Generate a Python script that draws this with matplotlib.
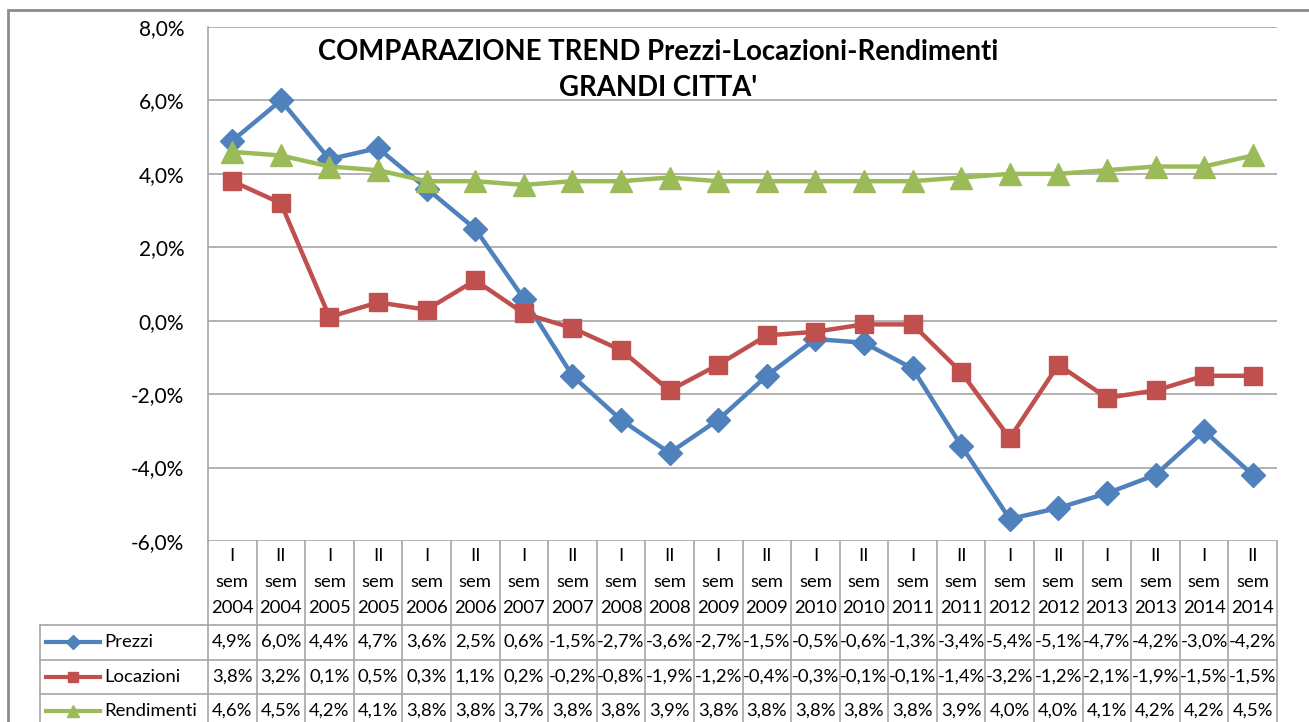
import matplotlib.pyplot as plt
import matplotlib.transforms as mtransforms
from matplotlib.lines import Line2D
from matplotlib.patches import Rectangle
from matplotlib.ticker import FuncFormatter

# data (percent)
semesters = ['I', 'II'] * 11
years = [str(y) for y in range(2004, 2015) for _ in range(2)]
prezzi = [4.9, 6.0, 4.4, 4.7, 3.6, 2.5, 0.6, -1.5, -2.7, -3.6, -2.7, -1.5,
          -0.5, -0.6, -1.3, -3.4, -5.4, -5.1, -4.7, -4.2, -3.0, -4.2]
locazioni = [3.8, 3.2, 0.1, 0.5, 0.3, 1.1, 0.2, -0.2, -0.8, -1.9, -1.2, -0.4,
             -0.3, -0.1, -0.1, -1.4, -3.2, -1.2, -2.1, -1.9, -1.5, -1.5]
rendimenti = [4.6, 4.5, 4.2, 4.1, 3.8, 3.8, 3.7, 3.8, 3.8, 3.9, 3.8, 3.8,
              3.8, 3.8, 3.8, 3.9, 4.0, 4.0, 4.1, 4.2, 4.2, 4.5]
yticks = [-6, -4, -2, 0, 2, 4, 6, 8]

series = [
    ('Prezzi', prezzi, '#4F81BD', 'D', 12.5),
    ('Locazioni', locazioni, '#C0504D', 's', 13.5),
    ('Rendimenti', rendimenti, '#9BBB59', '^', 15.5),
]

plt.rcParams['font.family'] = ['Lato', 'DejaVu Sans']
W, H = 1309, 722
fig = plt.figure(figsize=(W / 100, H / 100), dpi=100)

def fx(px):
    return px / W

def fy(py):
    return 1 - py / H

grid_col = '#A6A6A6'
ax = fig.add_axes([fx(208), fy(541), fx(1277) - fx(208), fy(27) - fy(541)])
x = list(range(len(prezzi)))
for name, vals, col, mk, ms in series:
    ax.plot(x, vals, color=col, lw=3.2, marker=mk, markersize=ms, label=name)

ax.set_xlim(-0.5, len(x) - 0.5)
ax.set_ylim(min(yticks), max(yticks))
ax.set_yticks(yticks)
ax.yaxis.set_major_formatter(FuncFormatter(lambda v, p: f'{v:.1f}%'.replace('.', ',')))
ax.set_xticks([])
ax.tick_params(axis='y', length=0, pad=17, labelsize=15)
ax.grid(axis='y', color=grid_col, lw=1.2)
ax.set_axisbelow(True)
for s in ['top', 'right', 'bottom']:
    ax.spines[s].set_visible(False)
ax.spines['left'].set_color(grid_col)
ax.spines['left'].set_linewidth(1.2)

# title
fig.text(fx(658), fy(52), 'COMPARAZIONE TREND Prezzi-Locazioni-Rendimenti',
         ha='center', va='center', fontsize=19.8, fontweight='bold')
fig.text(fx(658), fy(88), "GRANDI CITTA'", ha='center', va='center',
         fontsize=19.8, fontweight='bold')

# outer chart border
fig.add_artist(Rectangle((fx(8), fy(760)), fx(1400), fy(10) - fy(760),
                         transform=fig.transFigure, fill=False,
                         edgecolor='#8C8C8C', lw=2))

# data table
tr = mtransforms.blended_transform_factory(ax.transData, fig.transFigure)
tfs = 13.3
n = len(x)
for i in range(n + 1):
    fig.add_artist(Line2D([i - 0.5, i - 0.5], [fy(541), fy(730)], transform=tr,
                          color=grid_col, lw=1.2))
for py in [625, 660, 694]:
    fig.add_artist(Line2D([fx(40), fx(1277)], [fy(py), fy(py)],
                          transform=fig.transFigure, color=grid_col, lw=1.2))
fig.add_artist(Line2D([fx(40), fx(40)], [fy(625), fy(730)],
                      transform=fig.transFigure, color=grid_col, lw=1.2))

for i in range(n):
    fig.text(i, fy(556), semesters[i], transform=tr, ha='center', va='center', fontsize=tfs)
    fig.text(i, fy(582), 'sem', transform=tr, ha='center', va='center', fontsize=tfs)
    fig.text(i, fy(608), years[i], transform=tr, ha='center', va='center', fontsize=tfs)

row_y = [642, 677, 711]
for (name, vals, col, mk, ms), py in zip(series, row_y):
    for i, v in enumerate(vals):
        fig.text(i, fy(py), f'{v:.1f}%'.replace('.', ','), transform=tr,
                 ha='center', va='center', fontsize=tfs)
    fig.add_artist(Line2D([fx(46), fx(100)], [fy(py), fy(py)],
                          transform=fig.transFigure, color=col, lw=3))
    fig.add_artist(Line2D([fx(73)], [fy(py)], transform=fig.transFigure,
                          color=col, marker=mk, markersize=ms * 0.55))
    fig.text(fx(104), fy(py), name, ha='left', va='center', fontsize=tfs)

fig.savefig('out.png', dpi=100)
